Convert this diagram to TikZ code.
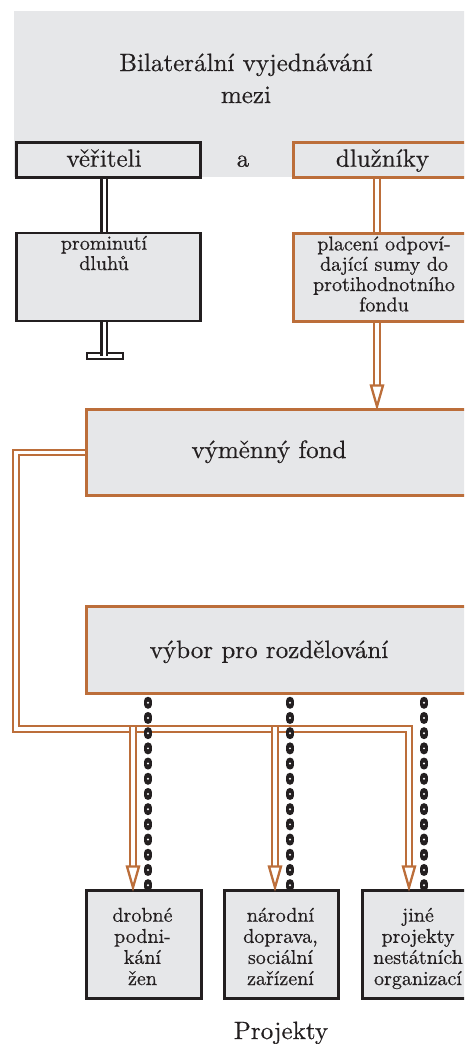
\documentclass[tikz,border=0pt]{standalone}
\usepackage{fontspec}
\setmainfont{lmroman10-regular.otf}[FakeBold=0.5]
\usetikzlibrary{calc}
\definecolor{orng}{RGB}{188,110,58}
\definecolor{boxgray}{RGB}{230,231,233}
\definecolor{ink}{RGB}{35,31,32}
\pgfdeclarelayer{bg}
\pgfsetlayers{bg,main}
\tikzset{
  bx/.style={draw=ink, line width=2.7pt, fill=boxgray, inner sep=0pt, anchor=north west},
  obx/.style={bx, draw=orng, line width=3pt},
  big/.style={font=\fontsize{25}{32}\selectfont, text=ink, align=center, inner sep=0pt, anchor=base},
  sml/.style={font=\fontsize{20}{20.3}\selectfont, text=ink, align=center, inner sep=0pt, anchor=base},
  smlb/.style={sml, font=\fontsize{20}{21.1}\selectfont},
  dblk/.style={draw=ink, line width=2.3pt, double=white, double distance=3pt},
  dorg/.style={draw=orng, line width=2.3pt, double=white, double distance=3.3pt, line join=miter},
  beadblk/.style={draw=ink, line width=8.5pt, line cap=round, dash pattern=on 3.5pt off 11.7pt, shorten <=6pt},
  beadwht/.style={draw=white, line width=2.2pt, line cap=round, dash pattern=on 0pt off 15.2pt, dash phase=13.45pt, shorten <=6pt},
  ahead/.pic={\draw[orng, line width=2.3pt, fill=white, line join=miter] (-6,-21) -- (0,0) -- (6,-21) -- cycle;}
}
\begin{document}
\begin{tikzpicture}[x=1pt,y=-1pt]
\useasboundingbox (0,0) rectangle (464,1044);
\clip (0,0) rectangle (464,1044);
% helper coordinates
\coordinate (xL) at (104,0);
\coordinate (xR) at (377,0);
\coordinate (xA1) at (133,0);
\coordinate (xA2) at (275,0);
\coordinate (xA3) at (409,0);
\coordinate (xB1) at (148,0);
\coordinate (xB2) at (290,0);
\coordinate (xB3) at (424,0);
\coordinate (cc) at (16,729);
% background panel
\node[fill=boxgray, inner sep=0pt, minimum width=470, minimum height=166, anchor=north west] (titlebg) at (14,11) {};
% boxes
\node[bx, minimum width=184, minimum height=35] (ver) at (15,141) {};
\node[obx, minimum width=190, minimum height=35] (dlz) at (292,141) {};
\node[bx, minimum width=184, minimum height=88] (prom) at (15,231.5) {};
\node[obx, minimum width=190, minimum height=88] (plc) at (292,231.5) {};
\node[obx, minimum width=395, minimum height=86] (vym) at (85,408) {};
\node[obx, minimum width=395, minimum height=87] (vyb) at (85,605) {};
\node[bx, minimum width=115, minimum height=108] (p1) at (85,889) {};
\node[bx, minimum width=114, minimum height=108] (p2) at (223,889) {};
\node[bx, minimum width=120, minimum height=108] (p3) at (361,889) {};
% texts (base anchor = baseline of the last line)
\node[big] (tTitle) at (246,103) {Bilaterální vyjednávání\\mezi};
\node[big] (tVer) at (104,166.7) {věřiteli};
\node[big] (tA) at (243,166.7) {a};
\node[big] (tDlz) at (382.5,166.7) {dlužníky};
\node[sml] (tProm) at (104,270) {prominutí\\dluhů};
\node[sml] (tPlc) at (384,311.3) {placení odpoví-\\dající sumy do\\protihodnotního\\fondu};
\node[big] (tVym) at (269,458) {výměnný fond};
\node[big] (tVyb) at (269,658) {výbor pro rozdělování};
\node[smlb] (tP1) at (142.5,985) {drobné\\podni-\\kání\\žen};
\node[smlb] (tP2) at (280.5,985) {národní\\doprava,\\sociální\\zařízení};
\node[smlb] (tP3) at (418,985) {jiné\\projekty\\nestátních\\organizací};
\node[big] (tProj) at (281,1039) {Projekty};
% connectors
\begin{pgfonlayer}{bg}
\node[draw=ink, line width=2.3pt, fill=white, minimum width=36, minimum height=6.5, inner sep=0pt, anchor=north west] (tbar) at (85.5,351.5) {};
\draw[dblk] (ver.south -| xL) -- (prom.north -| xL);
\draw[dblk] (prom.south -| xL) -- (tbar.center -| xL);
\draw[dorg] (dlz.south -| xR) -- (plc.north -| xR);
\draw[dorg, shorten >=20pt] (plc.south -| xR) -- (vym.north -| xR);
\draw[dorg, shorten >=20pt] (vym.west) -| (cc) -- (cc -| xA3) -- (p3.north -| xA3);
\draw[dorg, line cap=rect, shorten >=20pt] (cc -| xA1) -- (p1.north -| xA1);
\draw[dorg, line cap=rect, shorten >=20pt] (cc -| xA2) -- (p2.north -| xA2);
\foreach \b/\p in {xB1/p1, xB2/p2, xB3/p3}{
  \draw[beadblk] (vyb.south -| \b) -- (\p.north -| \b);
  \draw[beadwht] (vyb.south -| \b) -- (\p.north -| \b);
}
\end{pgfonlayer}
% arrowheads
\pic at ($(vym.north -| xR)+(0,-1.5)$) {ahead};
\pic at ($(p1.north -| xA1)+(0,-1.5)$) {ahead};
\pic at ($(p2.north -| xA2)+(0,-1.5)$) {ahead};
\pic at ($(p3.north -| xA3)+(0,-1.5)$) {ahead};
\end{tikzpicture}
\end{document}
